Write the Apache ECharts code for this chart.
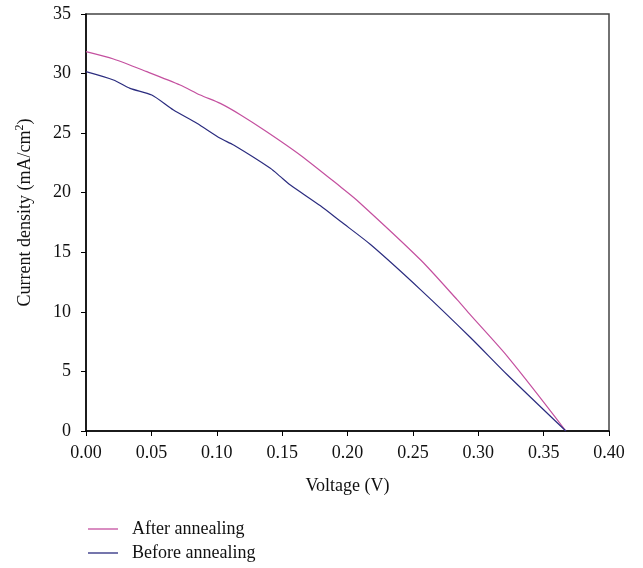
<!DOCTYPE html>
<html>
<head>
<meta charset="utf-8">
<script src="https://cdn.jsdelivr.net/npm/echarts@6/dist/echarts.min.js"></script>
<style>
	html, body { margin: 0; padding: 0; background: #fff; }
	#chart { width: 643px; height: 568px; }
</style>
</head>
<body>
<div id="chart"></div>
<script>
// 데이터
var seriesNames = ['After annealing', 'Before annealing'];

var afterVoltage = [0.000, 0.021, 0.0465, 0.072, 0.0874, 0.1027, 0.118, 0.1385, 0.164, 0.1946, 0.2074, 0.256, 0.284, 0.294, 0.3224, 0.367];
var afterCurrent = [31.84, 31.22, 30.16, 29.04, 28.2, 27.5, 26.55, 25.1, 23.15, 20.5, 19.35, 14.35, 11.0, 9.74, 6.24, 0];

var beforeVoltage = [0.000, 0.021, 0.0337, 0.0503, 0.0669, 0.0848, 0.1027, 0.1129, 0.141, 0.1487, 0.1563, 0.1793, 0.1946, 0.2176, 0.256, 0.294, 0.3224, 0.367];
var beforeCurrent = [30.16, 29.46, 28.76, 28.2, 26.94, 25.83, 24.57, 24.0, 22.05, 21.35, 20.65, 18.9, 17.6, 15.65, 11.85, 7.85, 4.7, 0];

var afterColor = '#c4509f';
var beforeColor = '#2b2c7f';
var fontFamily = '"Liberation Serif", "DejaVu Serif", serif';

function pairUp(xs, ys) {
	var out = [];
	for (var i = 0; i < xs.length; i++) {
		out.push([xs[i], ys[i]]);
	}
	return out;
}

var chart = echarts.init(document.getElementById('chart'));

var option = {
	animation: false,
	textStyle: { fontFamily: fontFamily },
	grid: {
		left: 86,
		right: 34,
		top: 14,
		bottom: 137,
		show: true,
		borderColor: '#444',
		borderWidth: 1.5
	},
	legend: {
		orient: 'vertical',
		left: 88,
		top: 519,
		padding: 0,
		icon: 'rect',
		itemWidth: 30,
		itemHeight: 1.3,
		itemGap: 4,
		textStyle: { fontFamily: fontFamily, fontSize: 18, lineHeight: 20, color: '#111', padding: [0, 0, 0, 9] },
		data: seriesNames
	},
	xAxis: {
		type: 'value',
		min: 0,
		max: 0.4,
		interval: 0.05,
		name: 'Voltage (V)',
		nameLocation: 'middle',
		nameGap: 46,
		nameTextStyle: { fontFamily: fontFamily, fontSize: 18, color: '#111' },
		axisLine: { onZero: false, lineStyle: { color: '#000', width: 1.5 } },
		axisTick: { show: true, length: 5, lineStyle: { color: '#000' } },
		axisLabel: {
			fontFamily: fontFamily, fontSize: 18, color: '#111', margin: 13,
			formatter: function(v) { return v.toFixed(2); }
		},
		splitLine: { show: false }
	},
	yAxis: {
		type: 'value',
		min: 0,
		max: 35,
		interval: 5,
		name: '{a|Current density (mA/cm}{s|2}{a|)}',
		nameLocation: 'middle',
		nameGap: 50,
		nameTextStyle: {
			padding: [0, 0, 0, 20],
			rich: {
				a: { fontFamily: fontFamily, fontSize: 18, color: '#111' },
				s: { fontFamily: fontFamily, fontSize: 12, color: '#111', padding: [0, 0, 10, 0] }
			}
		},
		axisLine: { show: true, lineStyle: { color: '#000', width: 1.5 } },
		axisTick: { show: true, length: 5, lineStyle: { color: '#000' } },
		axisLabel: { fontFamily: fontFamily, fontSize: 18, color: '#111', margin: 15 },
		splitLine: { show: false }
	},
	series: [
		{
			name: seriesNames[0],
			type: 'line',
			symbol: 'none',
			smooth: 0.25,
			itemStyle: { color: afterColor },
			lineStyle: { color: afterColor, width: 1.2 },
			data: pairUp(afterVoltage, afterCurrent)
		},
		{
			name: seriesNames[1],
			type: 'line',
			symbol: 'none',
			smooth: 0.25,
			itemStyle: { color: beforeColor },
			lineStyle: { color: beforeColor, width: 1.2 },
			data: pairUp(beforeVoltage, beforeCurrent)
		}
	]
};

chart.setOption(option);
</script>
</body>
</html>
